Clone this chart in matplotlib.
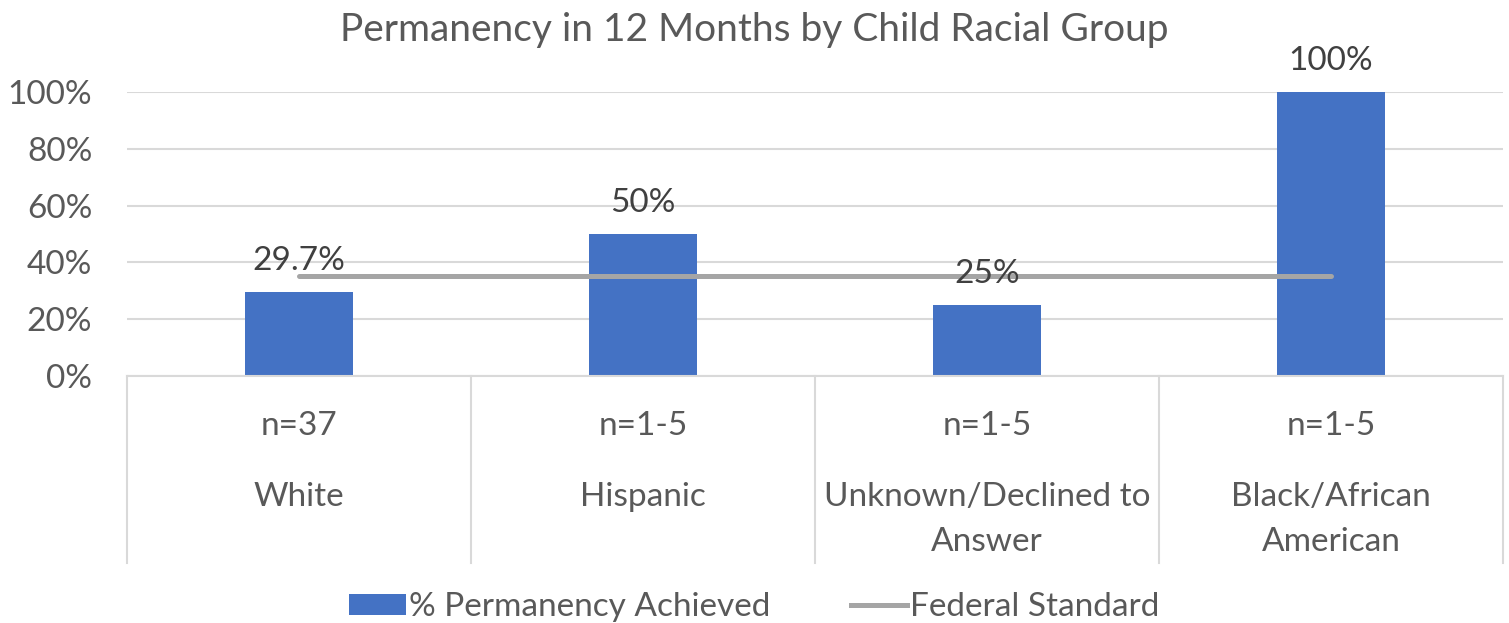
import matplotlib.pyplot as plt
from matplotlib.lines import Line2D
from matplotlib.patches import Patch

# data
groups = ['White', 'Hispanic', 'Unknown/Declined to\nAnswer', 'Black/African\nAmerican']
counts = ['n=37', 'n=1-5', 'n=1-5', 'n=1-5']
permanency = [0.297, 0.50, 0.25, 1.00]
value_labels = ['29.7%', '50%', '25%', '100%']
federal_standard = [0.352, 0.352, 0.352, 0.352]
yticks = [0, 0.2, 0.4, 0.6, 0.8, 1.0]

plt.rcParams['font.family'] = ['Lato', 'DejaVu Sans']
txt = '#595959'
bar_color = '#4472C4'
line_color = '#A5A5A5'
grid_color = '#D9D9D9'
fs = 24

fig = plt.figure(figsize=(15.09, 6.23), dpi=100)
ax = fig.add_axes([127 / 1509, 1 - 376 / 623, (1503 - 127) / 1509, (376 - 92) / 623])

x = list(range(len(groups)))
ax.bar(x, permanency, width=0.314, color=bar_color, zorder=2)
ax.plot(x, federal_standard, color=line_color, lw=3.6, solid_capstyle='round', zorder=3)

for xi, v, lab in zip(x, permanency, value_labels):
    ax.text(xi, v + 0.055, lab, ha='center', va='bottom', fontsize=fs, color='#404040')

ax.set_xlim(-0.5, len(groups) - 0.5)
ax.set_ylim(0, 1)
ax.set_yticks(yticks)
ax.set_yticklabels([f'{int(round(t * 100))}%' for t in yticks])
ax.tick_params(axis='y', length=0, pad=25, labelsize=fs, labelcolor=txt)
ax.set_xticks([])
ax.yaxis.grid(True, color=grid_color, lw=1.5, zorder=0)
for s in ['top', 'right', 'left']:
    ax.spines[s].set_visible(False)
ax.spines['bottom'].set_color(grid_color)
ax.spines['bottom'].set_linewidth(1.5)

# two-level category axis
for b in [-0.5, 0.5, 1.5, 2.5, 3.5]:
    ax.plot([b, b], [0, -0.66], color=grid_color, lw=1.5, clip_on=False)
for xi, c, g in zip(x, counts, groups):
    ax.text(xi, -0.175, c, ha='center', va='center', fontsize=fs, color=txt)
    ax.text(xi, -0.375, g, ha='center', va='top', fontsize=fs, color=txt, linespacing=1.6)

fig.text(0.5, 1 - 30 / 623, 'Permanency in 12 Months by Child Racial Group',
         ha='center', va='center', fontsize=28, color=txt)

handles = [Patch(facecolor=bar_color, label='% Permanency Achieved'),
           Line2D([0], [0], color=line_color, lw=3.6, label='Federal Standard')]
fig.legend(handles=handles, loc='center', bbox_to_anchor=(0.5, 1 - 607 / 623), ncol=2,
           frameon=False, fontsize=fs, labelcolor=txt, handlelength=1.7, handleheight=0.6,
           handletextpad=0.1, columnspacing=2.4)

fig.savefig('out.png', dpi=100)
